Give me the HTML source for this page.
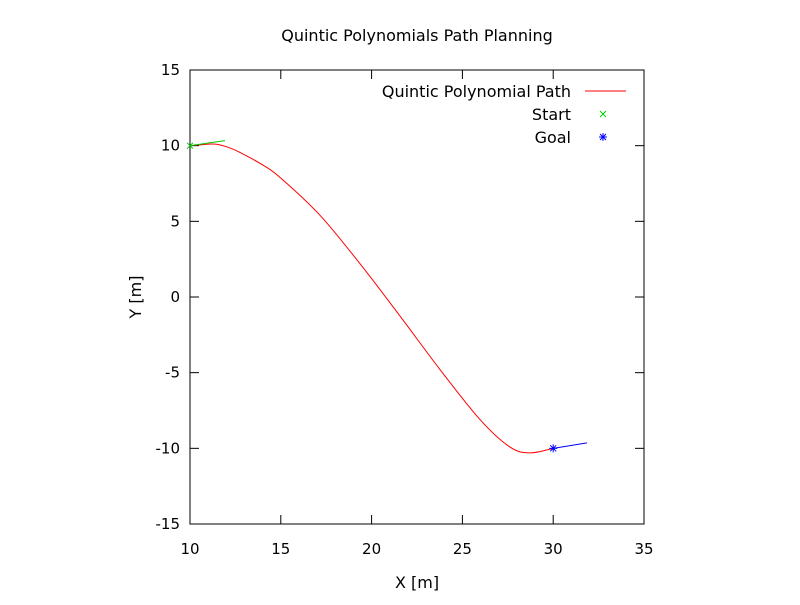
<!DOCTYPE html>
<html><head><meta charset="utf-8"><style>
body{margin:0;background:#fff}
svg text{font-family:"DejaVu Sans","Liberation Sans",sans-serif;font-size:16px;fill:#000}
svg text.tk{font-size:15px}
</style></head><body>
<svg id="chart" width="800" height="600" viewBox="0 0 800 600" xmlns="http://www.w3.org/2000/svg">
<rect width="800" height="600" fill="#fff"/>
<text x="417" y="41" text-anchor="middle">Quintic Polynomials Path Planning</text>
<g id="axes"></g>
<g id="series"></g>
<text x="417" y="588" text-anchor="middle">X [m]</text>
<text transform="translate(141,297) rotate(-90)" text-anchor="middle">Y [m]</text>
<g>
<text x="571" y="97" text-anchor="end">Quintic Polynomial Path</text>
<line x1="585" y1="91" x2="626" y2="91" stroke="#f00" stroke-width="1"/>
<text x="571" y="120" text-anchor="end">Start</text>
<path d="M600,111 l6,6 M606,111 l-6,6" stroke="#0c0" stroke-width="1"/>
<text x="571" y="143" text-anchor="end">Goal</text>
<path d="M600,134 l6,6 M606,134 l-6,6 M603,133 v8 M599,137 h8" stroke="#00f" stroke-width="1"/>
</g>
</svg>
<script>
const xTicks=[10,15,20,25,30,35];
const yTicks=[-15,-10,-5,0,5,10,15];
const pathX=[10,10.55,11.4,12.2,12.75,13.9,14.96,17.16,19.36,21.56,23.77,25.97,27.6,28.7,30];
const pathY=[10,10.05,10.1,9.85,9.55,8.8,7.9,5.4,2.2,-1.25,-4.8,-8.1,-9.9,-10.3,-10];
const startPt=[10,10];
const startDir=[11.93,10.33];
const goalPt=[30,-10];
const goalDir=[31.86,-9.64];
const L=190,R=644,T=70,B=524;
const sx=v=>L+(v-10)/(35-10)*(R-L);
const sy=v=>B-(v+15)/30*(B-T);
const NS='http://www.w3.org/2000/svg';
function mk(tag,attrs,parent){const e=document.createElementNS(NS,tag);for(const k in attrs)e.setAttribute(k,attrs[k]);parent.appendChild(e);return e;}
const ax=document.getElementById('axes');
const frame=mk('rect',{x:L,y:T,width:R-L,height:B-T,fill:'none',stroke:'#000','stroke-width':1},ax);


xTicks.forEach(t=>{const x=sx(t);
 const a=mk('line',{x1:x,y1:B,x2:x,y2:B-9,stroke:'#000'},ax);
 
 
 const b=mk('line',{x1:x,y1:T,x2:x,y2:T+9,stroke:'#000'},ax);
 
 
 const tx=mk('text',{x:x,y:554,'text-anchor':'middle',class:'tk'},ax);tx.textContent=t;
 
 
});
yTicks.forEach(t=>{const y=sy(t);
 const a=mk('line',{x1:L,y1:y,x2:L+9,y2:y,stroke:'#000'},ax);
 
 
 const b=mk('line',{x1:R,y1:y,x2:R-9,y2:y,stroke:'#000'},ax);
 
 
 const tx=mk('text',{x:180,y:y+5,'text-anchor':'end',class:'tk'},ax);tx.textContent=t;
 
 
});
const sg=document.getElementById('series');
const P=pathX.map((x,i)=>[sx(x),sy(pathY[i])]);
let d='M'+P[0][0]+','+P[0][1];
for(let i=0;i<P.length-1;i++){
 const p0=P[Math.max(0,i-1)],p1=P[i],p2=P[i+1],p3=P[Math.min(P.length-1,i+2)];
 const c1=[p1[0]+(p2[0]-p0[0])/6,p1[1]+(p2[1]-p0[1])/6];
 const c2=[p2[0]-(p3[0]-p1[0])/6,p2[1]-(p3[1]-p1[1])/6];
 d+=' C'+c1[0]+','+c1[1]+' '+c2[0]+','+c2[1]+' '+p2[0]+','+p2[1];
}
const pl=mk('path',{d:d,fill:'none',stroke:'#f00','stroke-width':1},sg);


const sl=mk('line',{x1:sx(startPt[0]),y1:sy(startPt[1]),x2:sx(startDir[0]),y2:sy(startDir[1]),stroke:'#0c0'},sg);


const gl=mk('line',{x1:sx(goalPt[0]),y1:sy(goalPt[1]),x2:sx(goalDir[0]),y2:sy(goalDir[1]),stroke:'#00f'},sg);


const scx=sx(startPt[0]),scy=sy(startPt[1]);
const sm=mk('path',{d:`M${scx-3},${scy-3} l6,6 M${scx+3},${scy-3} l-6,6`,stroke:'#0c0'},sg);


const gcx=sx(goalPt[0]),gcy=sy(goalPt[1]);
const gm=mk('path',{d:`M${gcx-3},${gcy-3} l6,6 M${gcx+3},${gcy-3} l-6,6 M${gcx},${gcy-4} v8 M${gcx-4},${gcy} h8`,stroke:'#00f'},sg);


</script>
</body></html>
